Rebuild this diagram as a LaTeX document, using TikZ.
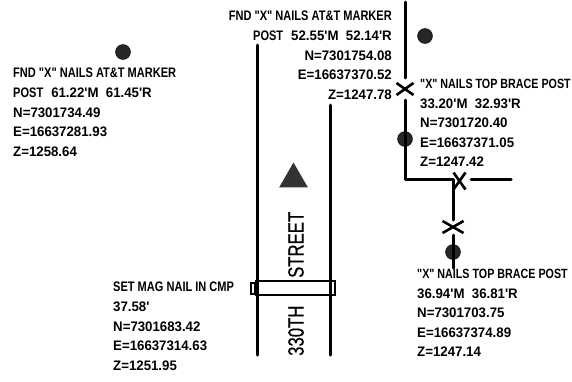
\documentclass[tikz,border=0pt]{standalone}
\usepackage{fontspec}
\setmainfont{Liberation Sans}[FakeStretch=0.8, Ligatures=TeXOff]
\newfontfamily\numfont{Liberation Sans}[FakeStretch=0.96, Ligatures=TeXOff]
\newfontfamily\streetfont{Liberation Sans}[FakeStretch=0.76, FakeBold=0.6]
\usetikzlibrary{shapes.misc,shapes.geometric}
\begin{document}
\begin{tikzpicture}[x=1pt, y=-1pt,
		lbl/.style={inner sep=0pt, font=\fontsize{13.8}{19.6}\selectfont\bfseries},
		road/.style={rotate=90, anchor=west, inner sep=0pt, font=\fontsize{22}{22}\streetfont},
		post/.style={circle, fill=black!85, draw=black, inner sep=0pt, minimum size=15pt},
		nail/.style={cross out, draw=black, line width=2.6pt, inner sep=0pt, outer sep=0pt, minimum width=17pt, minimum height=12pt},
		wire/.style={line width=3pt, line cap=round}]
	\useasboundingbox (0, 0) rectangle (572, 381);

	\node[post] (p1) at (123, 52) {};
	\node[post] (p2) at (425, 36) {};
	\node[post] (p3) at (405, 139) {};
	\node[post] (p4) at (453, 252) {};

	\node[nail] (x1) at (405, 89) {};
	\node[nail, minimum width=12pt, minimum height=17pt] (x2) at (459.5, 181) {};
	\node[nail, minimum width=21pt] (x3) at (453, 227) {};

	\coordinate (r1) at (257, 45);
	\coordinate (r2) at (257, 355);
	\coordinate (r3) at (330, 105);
	\coordinate (r4) at (330, 355);
	\coordinate (f1) at (405.5, 2);
	\coordinate (f2) at (405.5, 78);
	\coordinate (f3) at (405.5, 100);
	\coordinate (f4) at (405.5, 179);
	\coordinate (f5) at (453, 179);
	\coordinate (f6) at (453, 220);
	\coordinate (f7) at (471, 179);
	\coordinate (f8) at (511, 179);
	\coordinate (f9) at (453, 235);
	\coordinate (f10) at (453, 268);

	\draw[wire] (r1) -- (r2);
	\draw[wire] (r3) -- (r4);
	\draw[wire] (f1) -- (f2);
	\draw[wire, line join=round] (f3) -- (f4) -- (f5) -- (f6);
	\draw[wire] (f7) -- (f8);
	\draw[wire] (f9) -- (f10);

	\node[regular polygon, regular polygon sides=3, fill=black!80, inner sep=0pt, minimum size=33pt] (mark) at (293.5, 179) {};
	\node[draw, line width=1.4pt, minimum width=79pt, minimum height=14pt, inner sep=0pt] (cmp) at (295.5, 288) {};
	\node[draw, line width=2pt, minimum width=4pt, minimum height=11pt, inner sep=0pt] (nailcmp) at (253, 288) {};

	\node[road] (n330) at (296, 356) {330TH};
	\node[road] (street) at (296, 278) {STREET};

	\node[lbl, anchor=north west, align=left] (t1) at (13, 68) {FND "X" NAILS AT\&T MARKER\\POST\hspace{8pt}\numfont 61.22'M\ \ 61.45'R\\\numfont N=7301734.49\\\numfont E=16637281.93\\\numfont Z=1258.64};
	\node[lbl, anchor=north east, align=right] (t2) at (392, 11) {FND "X" NAILS AT\&T MARKER\\POST\hspace{8pt}\numfont 52.55'M\ \ 52.14'R\\\numfont N=7301754.08\\\numfont E=16637370.52\\\numfont Z=1247.78};
	\node[lbl, anchor=north west, align=left] (t3) at (420, 79) {\fontsize{13.4}{19.6}\selectfont "X" NAILS TOP BRACE POST\\\numfont 33.20'M\ \ 32.93'R\\\numfont N=7301720.40\\\numfont E=16637371.05\\\numfont Z=1247.42};
	\node[lbl, anchor=north west, align=left] (t4) at (417, 269) {\fontsize{13.4}{19.6}\selectfont "X" NAILS TOP BRACE POST\\\numfont 36.94'M\ \ 36.81'R\\\numfont N=7301703.75\\\numfont E=16637374.89\\\numfont Z=1247.14};
	\node[lbl, anchor=north west, align=left] (t5) at (113, 282) {SET MAG NAIL IN CMP\\\numfont 37.58'\\\numfont N=7301683.42\\\numfont E=16637314.63\\\numfont Z=1251.95};
\end{tikzpicture}
\end{document}
